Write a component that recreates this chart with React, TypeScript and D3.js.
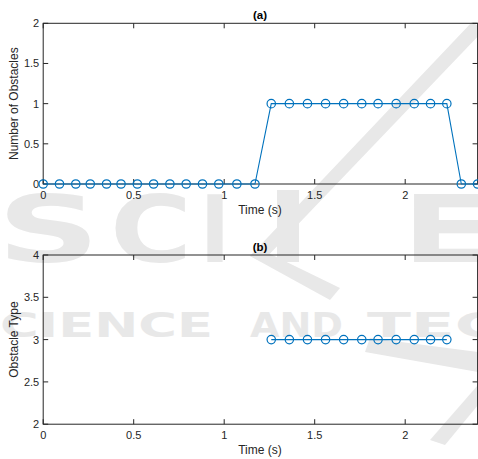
import React from "react";
import * as d3 from "d3";

// ---- data ----
const timeS = [0, 0.09, 0.18, 0.26, 0.35, 0.43, 0.52, 0.61, 0.70, 0.79, 0.88, 0.97, 1.07, 1.17,
  1.26, 1.36, 1.46, 1.56, 1.66, 1.76, 1.85, 1.95, 2.05, 2.14, 2.23, 2.31, 2.40];
const obstacleCount = [0, 0, 0, 0, 0, 0, 0, 0, 0, 0, 0, 0, 0, 0,
  1, 1, 1, 1, 1, 1, 1, 1, 1, 1, 1, 0, 0];
const typeTime = [1.26, 1.36, 1.46, 1.56, 1.66, 1.76, 1.85, 1.95, 2.05, 2.14, 2.23];
const obstacleType = [3, 3, 3, 3, 3, 3, 3, 3, 3, 3, 3];

const xTicks = [0, 0.5, 1, 1.5, 2];
const yTicksA = [0, 0.5, 1, 1.5, 2];
const yTicksB = [2, 2.5, 3, 3.5, 4];

const W = 478, H = 459;
const AX = "#262626";
const BLUE = "#0072BD";
const FONT = "'Liberation Sans', Arial, Helvetica, sans-serif";
const WM = "#e8e8e8";

type PanelProps = {
  xs: number[]; ys: number[]; yDomain: [number, number]; yTicks: number[];
  top: number; bottom: number; title: string; ylabel: string;
};

function Panel({ xs, ys, yDomain, yTicks, top, bottom, title, ylabel }: PanelProps) {
  const left = 43.2, right = 477.6;
  const x = d3.scaleLinear().domain([0, 2.4]).range([left, right]);
  const y = d3.scaleLinear().domain(yDomain).range([bottom, top]);
  const pts = xs.map((t, i) => [t, ys[i]] as [number, number]);
  const line = d3.line<[number, number]>().x(d => x(d[0])).y(d => y(d[1]));
  const tl = 5;
  const fmt = (v: number) => String(v);
  return (
    <g>
      <rect x={left} y={top} width={right - left} height={bottom - top} fill="none" stroke={AX} strokeWidth={1} />
      {xTicks.map(v => (
        <g key={"x" + v}>
          <line x1={x(v)} x2={x(v)} y1={bottom} y2={bottom - tl} stroke={AX} />
          <line x1={x(v)} x2={x(v)} y1={top} y2={top + tl} stroke={AX} />
          <text x={x(v)} y={bottom + 15} textAnchor="middle" fontSize={11} fill={AX} fontFamily={FONT}>{fmt(v)}</text>
        </g>
      ))}
      {yTicks.map(v => (
        <g key={"y" + v}>
          <line x1={left} x2={left + tl} y1={y(v)} y2={y(v)} stroke={AX} />
          <line x1={right} x2={right - tl} y1={y(v)} y2={y(v)} stroke={AX} />
          <text x={left - 4} y={y(v) + 4} textAnchor="end" fontSize={11} fill={AX} fontFamily={FONT}>{fmt(v)}</text>
        </g>
      ))}
      <path d={line(pts) || ""} fill="none" stroke={BLUE} strokeWidth={1.1} />
      {pts.map((p, i) => (
        <circle key={i} cx={x(p[0])} cy={y(p[1])} r={4.2} fill="none" stroke={BLUE} strokeWidth={1.2} />
      ))}
      <text x={260} y={top - 4} textAnchor="middle" fontSize={11.5} fontWeight="bold" fill="#000" fontFamily={FONT}>{title}</text>
      <text x={260} y={bottom + 30} textAnchor="middle" fontSize={12} fill={AX} fontFamily={FONT}>Time (s)</text>
      <text transform={`translate(18,${(top + bottom) / 2}) rotate(-90)`} textAnchor="middle" fontSize={12} fill={AX} fontFamily={FONT}>{ylabel}</text>
    </g>
  );
}

function Watermark() {
  const big = { fontSize: 92, fontWeight: "bold" as const, fill: WM, fontFamily: "'DejaVu Sans', sans-serif", lengthAdjust: "spacingAndGlyphs" };
  const mid = { fontSize: 34, fontWeight: "bold" as const, fill: WM, fontFamily: "'DejaVu Sans', sans-serif", lengthAdjust: "spacingAndGlyphs" };
  return (
    <g>
      <text x={-3} y={262} textLength={103} {...big}>S</text>
      <text x={110} y={262} textLength={82} {...big}>C</text>
      <text x={200} y={262} textLength={30} {...big}>I</text>
      <text x={402} y={262} textLength={90} {...big}>E</text>
      {/* stylized T / logo stripe */}
      <polygon points="472,22 484,30 262,262 250,256" fill={WM} />
      <rect x={277} y={190} width={22} height={72} fill={WM} />
      <polygon points="250,256 262,250 340,288 330,300" fill={WM} />
      <polygon points="370,338 478,352 478,372 365,352" fill={WM} />
      <polygon points="430,440 478,385 478,405 445,445" fill={WM} />
      <text x={-38} y={337} textLength={251} {...mid}>SCIENCE</text>
      <text x={250} y={337} textLength={93} {...mid}>AND</text>
      <text x={367} y={337} textLength={135} {...mid}>TEC</text>
    </g>
  );
}

export default function App() {
  return (
    <svg width={W} height={H} style={{ position: "absolute", left: 0, top: 0, background: "#fff" }}>
      <Watermark />
      <Panel xs={timeS} ys={obstacleCount} yDomain={[0, 2]} yTicks={yTicksA} top={23.3} bottom={184}
        title="(a)" ylabel="Number of Obstacles" />
      <Panel xs={typeTime} ys={obstacleType} yDomain={[2, 4]} yTicks={yTicksB} top={255} bottom={424.2}
        title="(b)" ylabel="Obstacle Type" />
    </svg>
  );
}
